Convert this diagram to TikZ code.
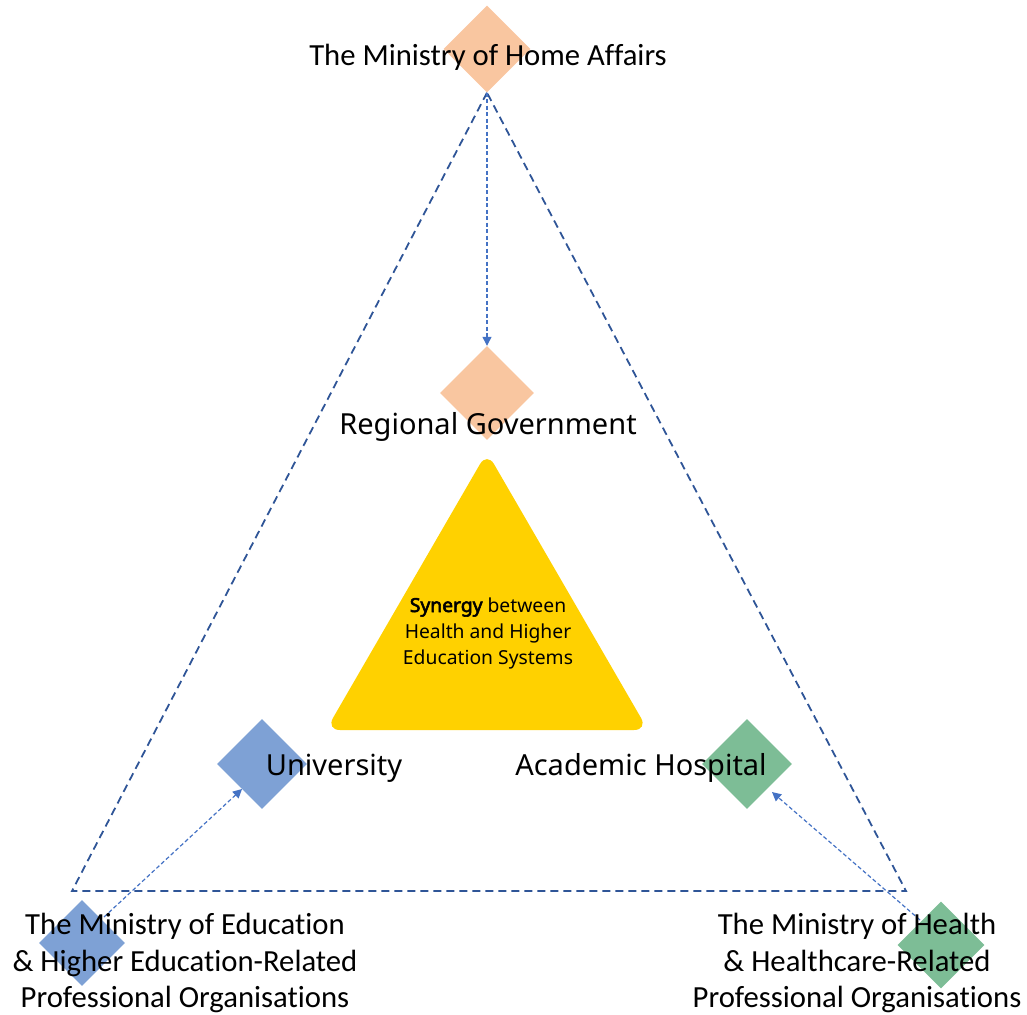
\documentclass[tikz,border=0pt]{standalone}
\usepackage{fontspec}
\setmainfont{Carlito}[Ligatures=NoCommon]
\newfontfamily\midfont{Noto Sans}[BoldFont={Noto Sans}, BoldFeatures={FakeBold=3}]
\usetikzlibrary{shapes.geometric,arrows.meta}
\definecolor{peach}{HTML}{F9C6A0}
\definecolor{blued}{HTML}{7EA1D5}
\definecolor{greend}{HTML}{7DBD96}
\definecolor{gold}{HTML}{FFD100}
\definecolor{dashblue}{HTML}{2F5597}
\definecolor{arrblue}{HTML}{4472C4}
\tikzset{
  dia/.style={diamond, aspect=1, minimum width=#1, minimum height=#1, inner sep=0pt, draw=none},
  bigdash/.style={draw=dashblue, line width=1.8pt, dash pattern=on 8pt off 5pt},
  thinarr/.style={draw=arrblue, line width=1.2pt, dash pattern=on 4pt off 2.5pt, -{Triangle[length=9pt,width=9pt]}},
  mintext/.style={font=\fontsize{30.7}{36.5}\selectfont, align=center, inner sep=0pt, text=black},
  midtext/.style={font=\midfont\fontsize{29}{32}\selectfont, inner sep=0pt, text=black},
}
\begin{document}
\begin{tikzpicture}[x=1pt,y=-1pt]
\useasboundingbox (0,0) rectangle (1027,1014);
% diamonds
\node[dia=87, fill=peach] (home) at (487,49) {};
\node[dia=94, fill=peach] (reg) at (487,393) {};
\node[dia=90, fill=blued] (uni) at (262,764) {};
\node[dia=90, fill=greend] (hosp) at (747,764) {};
\node[dia=86, fill=blued] (edu) at (82,943) {};
\node[dia=87, fill=greend] (hlth) at (941,945) {};
% central triangle
\fill[gold, rounded corners=14pt] (487,452) -- (648,730) -- (326,730) -- cycle;
\node[font=\midfont\fontsize{19.3}{26}\selectfont, align=center, inner sep=0pt] (syn) at (488,633)
  {\textbf{Synergy} between\\Health and Higher\\Education Systems};
% dashed outer triangle
\coordinate (bl) at (72,891);
\coordinate (br) at (906,891);
\draw[bigdash] (home.south) -- (bl) -- (br) -- cycle;
% arrows
\coordinate (eduA) at (104,917);
\coordinate (uniA) at (242,789);
\coordinate (hlthA) at (920,920);
\coordinate (hospA) at (772,792);
\draw[thinarr] (home.south) -- (reg.north);
\draw[thinarr] (eduA) -- (uniA);
\draw[thinarr] (hlthA) -- (hospA);
% texts
\node[mintext] (homeT) at (488,57) {The Ministry of Home Affairs};
\node[midtext] (regT) at (488,427) {Regional Government};
\node[midtext] (uniT) at (334,768) {University};
\node[midtext] (hospT) at (641,768) {Academic Hospital};
\node[mintext] (eduT) at (185,963) {The Ministry of Education\\\& Higher Education-Related\\Professional Organisations};
\node[mintext] (hlthT) at (857,963) {The Ministry of Health\\\& Healthcare-Related\\Professional Organisations};
\end{tikzpicture}
\end{document}
